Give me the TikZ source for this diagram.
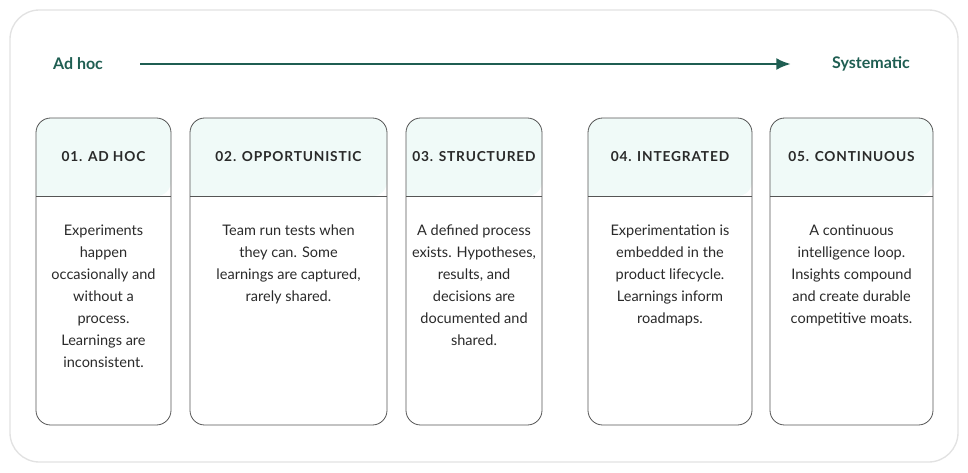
\documentclass[tikz,border=0pt]{standalone}
\usepackage{fontspec}
\setmainfont{Lato}
\newfontfamily\capsfont[LetterSpace=6]{Lato}
\usetikzlibrary{positioning,arrows.meta}
\definecolor{teal}{HTML}{1F5E52}
\definecolor{mint}{HTML}{F0FAF8}
\definecolor{frame}{HTML}{E2E2E2}
\definecolor{ink}{HTML}{2A2A2A}
\tikzset{
	stage/.style={draw=ink!80, line width=0.6pt, rounded corners=11pt},
	head/.style={font=\capsfont\bfseries\fontsize{10.3}{12}\selectfont, text=ink},
	body/.style={font=\fontsize{10.9}{16.5}\selectfont, text=ink, align=center, anchor=north},
	scale label/.style={font=\bfseries\fontsize{12}{14}\selectfont, text=teal},
}
% card: name, left, right, title, body
\newcommand{\stagecard}[5]{
	\fill[mint, rounded corners=11pt] (#2,196) -- (#2,118) -- (#3,118) -- (#3,196) [sharp corners] -- cycle;
	\draw[stage] (#2,118) rectangle (#3,425);
	\draw[ink!80, line width=0.6pt] (#2,196) -- (#3,196);
	\node[head] (#1) at ({(#2+#3)/2},157) {#4};
	\node[body] (#1-text) at ({(#2+#3)/2},220) {#5};
}

\begin{document}
\begin{tikzpicture}[x=0.75pt, y=-0.75pt]
		\useasboundingbox (0,0) rectangle (968,472);
		\draw[frame, line width=1pt, fill=white, rounded corners=22pt] (10,10) rectangle (958,462);
		\node[scale label] (adhoc) at (78,64) {Ad hoc};
		\node[scale label] (systematic) at (871,64) {Systematic};
		\coordinate (from) at (140,64);
		\coordinate (to) at (791,64);
		\draw[teal, line width=2pt, -{Latex[length=11pt,width=9pt]}] (from) -- (to);
		\stagecard{s1}{36}{171}{01. AD HOC}{Experiments\\happen\\occasionally and\\without a\\process.\\Learnings are\\inconsistent.}
		\stagecard{s2}{190}{387}{02. OPPORTUNISTIC}{Team run tests when\\they can. Some\\learnings are captured,\\rarely shared.}
		\stagecard{s3}{406}{542}{03. STRUCTURED}{A defined process\\exists. Hypotheses,\\results, and\\decisions are\\documented and\\shared.}
		\stagecard{s4}{588}{752}{04. INTEGRATED}{Experimentation is\\embedded in the\\product lifecycle.\\Learnings inform\\roadmaps.}
		\stagecard{s5}{770}{933}{05. CONTINUOUS}{A continuous\\intelligence loop.\\Insights compound\\and create durable\\competitive moats.}
	\end{tikzpicture}
\end{document}
